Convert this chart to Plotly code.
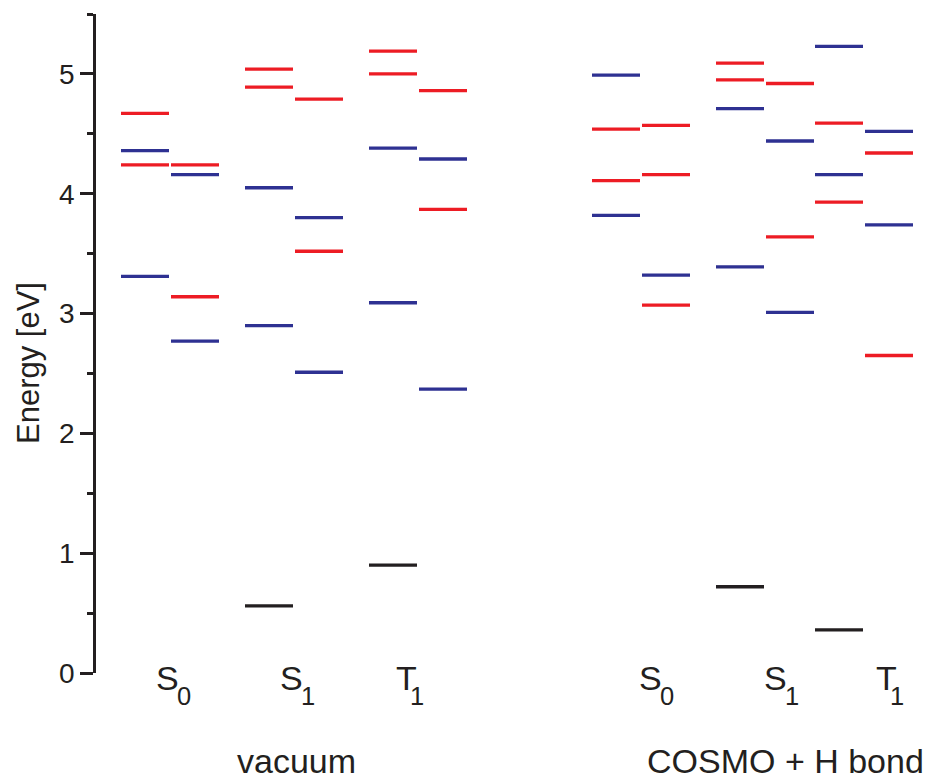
import plotly.graph_objects as go

# Electronic state labels (letter, index) and the two environments
STATE_LETTERS = ["S", "S", "T"]
STATE_INDICES = ["0", "1", "1"]
ENVIRONMENTS = ["vacuum", "COSMO + H bond"]

# Energy levels [eV]; each state has two columns (a = left, b = right)
# --- vacuum ---
VAC_S0_A_RED = [4.67, 4.24]
VAC_S0_A_BLUE = [4.36, 3.31]
VAC_S0_B_RED = [4.24, 3.14]
VAC_S0_B_BLUE = [4.16, 2.77]
VAC_S1_A_RED = [5.04, 4.89]
VAC_S1_A_BLUE = [4.05, 2.90]
VAC_S1_A_BLACK = [0.56]
VAC_S1_B_RED = [4.79, 3.52]
VAC_S1_B_BLUE = [3.80, 2.51]
VAC_T1_A_RED = [5.19, 5.00]
VAC_T1_A_BLUE = [4.38, 3.09]
VAC_T1_A_BLACK = [0.90]
VAC_T1_B_RED = [4.86, 3.87]
VAC_T1_B_BLUE = [4.29, 2.37]
# --- COSMO + H bond ---
COS_S0_A_RED = [4.54, 4.11]
COS_S0_A_BLUE = [4.99, 3.82]
COS_S0_B_RED = [4.57, 4.16, 3.07]
COS_S0_B_BLUE = [3.32]
COS_S1_A_RED = [5.09, 4.95]
COS_S1_A_BLUE = [4.71, 3.39]
COS_S1_A_BLACK = [0.72]
COS_S1_B_RED = [4.92, 3.64]
COS_S1_B_BLUE = [4.44, 3.01]
COS_T1_A_RED = [4.59, 3.93]
COS_T1_A_BLUE = [5.23, 4.16]
COS_T1_A_BLACK = [0.36]
COS_T1_B_RED = [4.34, 2.65]
COS_T1_B_BLUE = [4.52, 3.74]

Y_TICKS = [0, 1, 2, 3, 4, 5]

RED = "#ED1C24"
BLUE = "#2E3192"
BLACK = "#231F20"
INK = "#231F20"

# horizontal layout (x axis runs in page pixels)
W, H = 932, 780
ML, MR, MT, MB = 96, 0, 14, 107
GROUP_CENTERS = [[170, 294, 418], [641, 765, 864]]
LABEL_CENTERS = [[167, 291, 406], [650, 775, 886]]
SUB_OFFSET = {"S": 17, "T": 11}
HALF = 49   # column extent from group centre
GAP = 1     # gap between the two columns of a group

columns = [
    # (env, state, side, red, blue, black)
    (0, 0, "a", VAC_S0_A_RED, VAC_S0_A_BLUE, []),
    (0, 0, "b", VAC_S0_B_RED, VAC_S0_B_BLUE, []),
    (0, 1, "a", VAC_S1_A_RED, VAC_S1_A_BLUE, VAC_S1_A_BLACK),
    (0, 1, "b", VAC_S1_B_RED, VAC_S1_B_BLUE, []),
    (0, 2, "a", VAC_T1_A_RED, VAC_T1_A_BLUE, VAC_T1_A_BLACK),
    (0, 2, "b", VAC_T1_B_RED, VAC_T1_B_BLUE, []),
    (1, 0, "a", COS_S0_A_RED, COS_S0_A_BLUE, []),
    (1, 0, "b", COS_S0_B_RED, COS_S0_B_BLUE, []),
    (1, 1, "a", COS_S1_A_RED, COS_S1_A_BLUE, COS_S1_A_BLACK),
    (1, 1, "b", COS_S1_B_RED, COS_S1_B_BLUE, []),
    (1, 2, "a", COS_T1_A_RED, COS_T1_A_BLUE, COS_T1_A_BLACK),
    (1, 2, "b", COS_T1_B_RED, COS_T1_B_BLUE, []),
]

segs = {RED: ([], []), BLUE: ([], []), BLACK: ([], [])}
for env, st, side, reds, blues, blacks in columns:
    c = GROUP_CENTERS[env][st]
    x0, x1 = (c - HALF, c - GAP) if side == "a" else (c + GAP, c + HALF)
    for color, vals in ((RED, reds), (BLUE, blues), (BLACK, blacks)):
        xs, ys = segs[color]
        for e in vals:
            xs += [x0, x1, None]
            ys += [e, e, None]

fig = go.Figure()
for color, (xs, ys) in segs.items():
    fig.add_trace(go.Scatter(x=xs, y=ys, mode="lines",
                             line=dict(color=color, width=3.3),
                             hoverinfo="skip", showlegend=False))

FONT = "Arial, Liberation Sans, sans-serif"
PLOT_H = H - MT - MB


def paper_y(px):
    """Convert a page pixel row to paper coordinates."""
    return (H - MB - px) / PLOT_H


def paper_x(px):
    return (px - ML) / (W - ML - MR)


annotations = []
for env in range(2):
    for st in range(3):
        letter, idx = STATE_LETTERS[st], STATE_INDICES[st]
        cx = LABEL_CENTERS[env][st]
        annotations.append(dict(
            x=cx, y=paper_y(678), xref="x", yref="paper", text=letter,
            showarrow=False, xanchor="center", yanchor="middle",
            font=dict(family=FONT, size=34, color=INK)))
        annotations.append(dict(
            x=cx + SUB_OFFSET[letter], y=paper_y(696), xref="x", yref="paper",
            text=idx, showarrow=False, xanchor="center", yanchor="middle",
            font=dict(family=FONT, size=25.5, color=INK)))
annotations.append(dict(x=296, y=paper_y(761), xref="x", yref="paper",
                        text=ENVIRONMENTS[0], showarrow=False,
                        xanchor="center", yanchor="middle",
                        font=dict(family=FONT, size=34, color=INK)))
annotations.append(dict(x=645, y=paper_y(761), xref="x", yref="paper",
                        text=ENVIRONMENTS[1], showarrow=False,
                        xanchor="left", yanchor="middle",
                        font=dict(family=FONT, size=34, color=INK)))
# y-axis title
annotations.append(dict(x=paper_x(28), y=paper_y(363), xref="paper", yref="paper",
                        text="Energy [eV]", textangle=-90, showarrow=False,
                        xanchor="center", yanchor="middle",
                        font=dict(family=FONT, size=31, color=INK)))

fig.update_layout(
    width=W, height=H,
    margin=dict(l=ML, r=MR, t=MT, b=MB),
    paper_bgcolor="white", plot_bgcolor="white",
    annotations=annotations,
    xaxis=dict(visible=False, range=[ML, W - MR], fixedrange=True),
    yaxis=dict(
        range=[0, 5.5], tickvals=Y_TICKS, ticktext=[str(t) for t in Y_TICKS],
        showline=True, linecolor=INK, linewidth=2.5,
        ticks="outside", ticklen=13, tickwidth=2.5, tickcolor=INK,
        tickfont=dict(family=FONT, size=28, color=INK),
        minor=dict(tickvals=[0.5, 1.5, 2.5, 3.5, 4.5, 5.5], ticks="outside",
                   ticklen=6, tickwidth=2.5, tickcolor=INK),
        showgrid=False, zeroline=False, automargin=False, fixedrange=True,
    ),
)

fig.write_html("out.html")
